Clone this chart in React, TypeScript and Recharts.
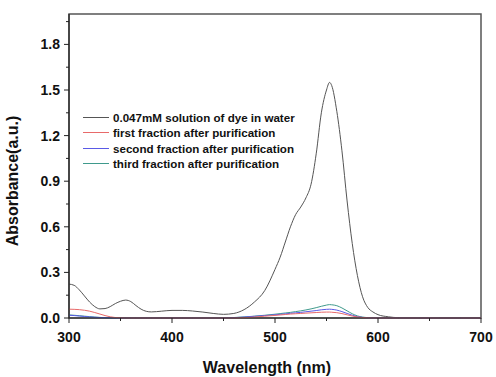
import { LineChart, Line, XAxis, YAxis, ReferenceArea } from 'recharts';

const wavelength = [
  300, 305, 310, 315, 320, 325, 330, 335, 340, 345, 350, 355, 360, 365, 370, 375, 380,
  390, 400, 410, 420, 430, 440, 450, 460, 470, 480, 490, 500,
  505, 510, 515, 520, 525, 530, 535, 540, 545, 550, 553,
  555, 560, 565, 570, 575, 580, 585, 590, 595, 600,
  610, 620, 640, 660, 680, 700,
];

const dyeWater = [
  0.223, 0.215, 0.185, 0.145, 0.105, 0.075, 0.06, 0.062, 0.075, 0.095, 0.11, 0.118, 0.108, 0.082, 0.058, 0.044, 0.04,
  0.045, 0.05, 0.05, 0.046, 0.039, 0.03, 0.024, 0.03, 0.055, 0.105, 0.18, 0.32,
  0.4, 0.5, 0.6, 0.68, 0.73, 0.79, 0.88, 1.08, 1.35, 1.5, 1.55,
  1.53, 1.36, 1.1, 0.77, 0.49, 0.28, 0.14, 0.07, 0.04, 0.022,
  0.008, 0.002, 0, 0, 0, 0,
];

const firstFraction = [
  0.058, 0.057, 0.055, 0.051, 0.045, 0.036, 0.026, 0.016, 0.008, 0.003, 0.001, 0, 0, 0, 0, 0, 0,
  0, 0, 0, 0, 0, 0, 0, 0, 0.002, 0.006, 0.012, 0.017,
  0.02, 0.023, 0.026, 0.028, 0.03, 0.032, 0.034, 0.036, 0.038, 0.039, 0.039,
  0.038, 0.035, 0.029, 0.021, 0.013, 0.007, 0.003, 0.001, 0, 0,
  0, 0, 0, 0, 0, 0,
];

const secondFraction = [
  0.018, 0.016, 0.013, 0.01, 0.007, 0.005, 0.003, 0.002, 0.001, 0, 0, 0, 0, 0, 0, 0, 0,
  0, 0, 0, 0, 0, 0, 0, 0.002, 0.006, 0.011, 0.016, 0.021,
  0.024, 0.027, 0.031, 0.034, 0.037, 0.041, 0.045, 0.049, 0.054, 0.057, 0.058,
  0.057, 0.052, 0.042, 0.03, 0.018, 0.009, 0.004, 0.001, 0, 0,
  0, 0, 0, 0, 0, 0,
];

const thirdFraction = [
  0.02, 0.018, 0.015, 0.012, 0.009, 0.006, 0.004, 0.002, 0.001, 0, 0, 0, 0, 0, 0, 0, 0,
  0, 0, 0, 0, 0, 0, 0, 0.003, 0.007, 0.012, 0.018, 0.025,
  0.029, 0.033, 0.037, 0.042, 0.047, 0.053, 0.06, 0.068, 0.077, 0.085, 0.088,
  0.087, 0.081, 0.066, 0.047, 0.028, 0.014, 0.006, 0.002, 0, 0,
  0, 0, 0, 0, 0, 0,
];

const xTicks = [300, 350, 400, 450, 500, 550, 600, 650, 700];
const yTicks = [0, 0.15, 0.3, 0.45, 0.6, 0.75, 0.9, 1.05, 1.2, 1.35, 1.5, 1.65, 1.8, 1.95];

const series = [
  { key: 'dye', name: '0.047mM solution of dye in water', color: '#555555' },
  { key: 'third', name: 'third fraction after purification', color: '#3f9a8c' },
  { key: 'second', name: 'second fraction after purification', color: '#5a5ae6' },
  { key: 'first', name: 'first fraction after purification', color: '#e86a6a' },
];
const legendOrder = ['dye', 'first', 'second', 'third'];

const data = wavelength.map((w, i) => ({
  w,
  dye: dyeWater[i],
  first: firstFraction[i],
  second: secondFraction[i],
  third: thirdFraction[i],
}));

const font = 'Arial, "Liberation Sans", sans-serif';

const XTick = ({ x, y, payload }: any) => {
  const major = payload.value % 100 === 0;
  return (
    <g>
      <line x1={x} x2={x} y1={y} y2={y + (major ? 5 : 3)} stroke="#222" />
      {major && (
        <text x={x} y={y + 24} textAnchor="middle" fontFamily={font} fontWeight="bold" fontSize={14} fill="#111">
          {payload.value}
        </text>
      )}
    </g>
  );
};

const YTick = ({ x, y, payload }: any) => {
  const major = Math.round(payload.value * 100) % 30 === 0;
  return (
    <g>
      <line x1={x} x2={x - (major ? 5 : 3)} y1={y} y2={y} stroke="#222" />
      {major && (
        <text x={x - 9} y={y + 5} textAnchor="end" fontFamily={font} fontWeight="bold" fontSize={14} fill="#111">
          {payload.value.toFixed(1)}
        </text>
      )}
    </g>
  );
};

// legend drawn over the chart so it doesn't eat plot space
const LegendBox = () => (
  <div
    style={{
      position: 'absolute',
      left: 83,
      top: 110,
      fontFamily: font,
      fontWeight: 'bold',
      fontSize: 11.6,
      color: '#111',
    }}
  >
    {legendOrder.map((k) => {
      const s = series.find((d) => d.key === k)!;
      return (
        <div key={k} style={{ display: 'flex', alignItems: 'center', height: 15.3 }}>
          <span style={{ display: 'inline-block', width: 26, height: 1, background: s.color, marginRight: 4 }} />
          <span style={{ whiteSpace: 'nowrap' }}>{s.name}</span>
        </div>
      );
    })}
  </div>
);

export default function App() {
  return (
    <div style={{ position: 'absolute', left: 0, top: 0, width: 496, height: 377, background: '#fff' }}>
      <LineChart width={496} height={377} data={data} margin={{ top: 14, right: 15, left: 9, bottom: 0 }}>
        <XAxis
          dataKey="w"
          type="number"
          domain={[300, 700]}
          ticks={xTicks}
          interval={0}
          tick={<XTick />}
          tickLine={false}
          tickSize={0}
          tickMargin={0}
          height={59}
          axisLine={{ stroke: '#222', strokeWidth: 1.2 }}
          label={{
            content: () => (
              <text x={267} y={373} textAnchor="middle" fontFamily={font} fontWeight="bold" fontSize={16} fill="#111">
                Wavelength (nm)
              </text>
            ),
          }}
        />
        <YAxis
          type="number"
          domain={[0, 2]}
          ticks={yTicks}
          interval={0}
          tick={<YTick />}
          tickLine={false}
          tickSize={0}
          tickMargin={0}
          width={60}
          axisLine={{ stroke: '#222', strokeWidth: 1.2 }}
          label={{
            content: () => (
              <text
                x={18}
                y={181}
                transform="rotate(-90 18 181)"
                textAnchor="middle"
                fontFamily={font}
                fontWeight="bold"
                fontSize={16}
                fill="#111"
              >
                Absorbance(a.u.)
              </text>
            ),
          }}
        />
        <ReferenceArea x1={300} x2={700} y1={0} y2={2} fill="none" stroke="#555" strokeWidth={1.5} ifOverflow="extendDomain" />
        {series.map((s) => (
          <Line
            key={s.key}
            type="monotone"
            dataKey={s.key}
            name={s.name}
            stroke={s.color}
            strokeWidth={1}
            dot={false}
            activeDot={false}
            isAnimationActive={false}
          />
        ))}
      </LineChart>
      <LegendBox />
    </div>
  );
}
